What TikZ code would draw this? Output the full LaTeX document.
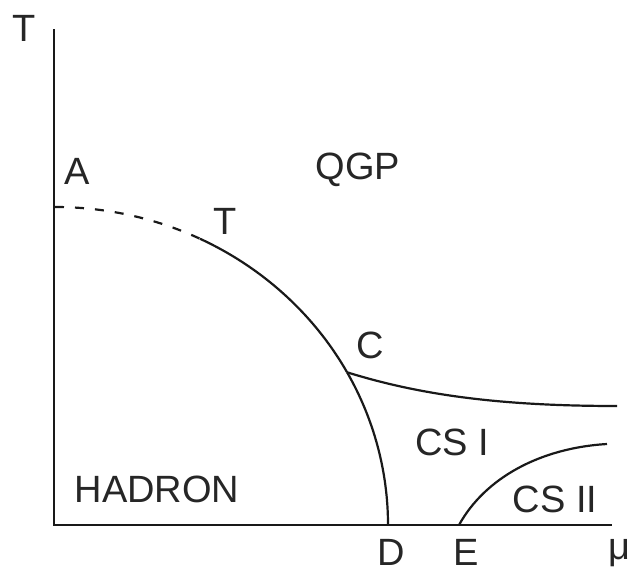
\documentclass[tikz,border=0pt]{standalone}
\usepackage{fontspec}
\setmainfont{Liberation Sans}
\begin{document}
\begin{tikzpicture}[x=1pt,y=1pt,
  axis/.style={line width=2.6pt,draw=black!90},
  phase/.style={line width=2.2pt,draw=black!90},
  lbl/.style={inner sep=0pt,text=black!85,font=\fontsize{38}{40}\selectfont}]
\useasboundingbox (0,0) rectangle (632,-573);
% axes
\coordinate (O) at (54,-525);
\coordinate (Ytop) at (54,-29);
\coordinate (Xend) at (612,-525);
\draw[axis] (Ytop) -- (O) -- (Xend);
% ellipse boundary: centre O, radii 333 x 318
\coordinate (A) at (55,-207);
\draw[phase,dash pattern=on 9pt off 11pt] (A) arc[start angle=90,end angle=64.2,x radius=333pt,y radius=318pt] coordinate (Tp);
\draw[phase] (Tp) arc[start angle=64.2,end angle=28.7,x radius=333pt,y radius=318pt] coordinate (C);
\draw[phase] (C) arc[start angle=28.7,end angle=0,x radius=333pt,y radius=318pt] coordinate (D);
% CS I / QGP boundary
\coordinate (R1) at (617,-406);
\draw[phase] (C) .. controls (420,-395) and (500,-406) .. (R1);
% CS I / CS II boundary
\coordinate (E) at (459,-525);
\coordinate (R2) at (607,-444);
\draw[phase] (E) .. controls (485,-478) and (540,-448) .. (R2);
% labels
\node[lbl] (lT) at (24,-28) {T};
\node[lbl] (lmu) at (619,-553) {μ};
\node[lbl] (lA) at (77,-171) {A};
\node[lbl] (lTp) at (225,-221) {T};
\node[lbl] (lQGP) at (358,-170) {QGP};
\node[lbl] (lC) at (370,-345) {C};
\node[lbl] (lCSI) at (452,-442) {CS I};
\node[lbl] (lCSII) at (555,-499) {CS II};
\node[lbl] (lH) at (157,-489) {HADRON};
\node[lbl] (lD) at (391,-552) {D};
\node[lbl] (lE) at (466,-552) {E};
\end{tikzpicture}
\end{document}
